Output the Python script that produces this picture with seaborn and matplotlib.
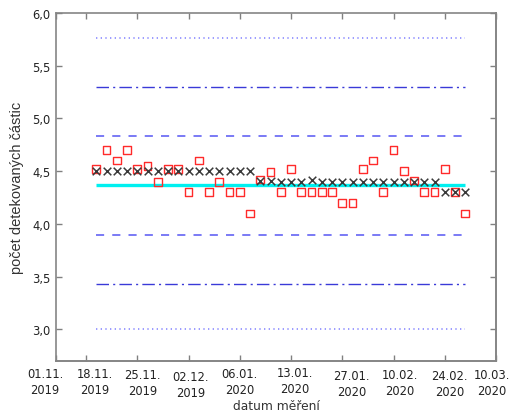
import numpy as np
import pandas as pd
import matplotlib
matplotlib.use("Agg")
import matplotlib.pyplot as plt
import matplotlib.transforms as mtransforms
import seaborn as sns

# --- data ---------------------------------------------------------------
measurement_index = list(range(1, 38))
cross_values = [4.5, 4.5, 4.5, 4.5, 4.5, 4.5, 4.5, 4.5, 4.5, 4.5,
                4.5, 4.5, 4.5, 4.5, 4.5, 4.5, 4.41, 4.41, 4.4, 4.4,
                4.4, 4.42, 4.4, 4.4, 4.4, 4.4, 4.4, 4.4, 4.4, 4.4,
                4.4, 4.4, 4.4, 4.4, 4.3, 4.3, 4.3]
square_values = [4.52, 4.7, 4.6, 4.7, 4.52, 4.55, 4.4, 4.52, 4.52, 4.3,
                 4.6, 4.3, 4.4, 4.3, 4.3, 4.1, 4.42, 4.49, 4.3, 4.52,
                 4.3, 4.3, 4.3, 4.3, 4.2, 4.2, 4.52, 4.6, 4.3, 4.7,
                 4.5, 4.41, 4.3, 4.3, 4.52, 4.3, 4.1]
mean_level = 4.365
limit_levels_dashed = [4.835, 3.893]
limit_levels_dashdot = [5.295, 3.43]
limit_levels_dotted = [5.763, 3.0]

tick_positions = [-2.93, 0, 5, 10, 15, 20, 25, 30, 35, 40]
tick_labels = ["01.11.\n2019", "18.11.\n2019", "25.11.\n2019", "02.12.\n2019",
               "06.01.\n2020", "13.01.\n2020", "27.01.\n2020", "10.02.\n2020",
               "24.02.\n2020", "10.03.\n2020"]
# small horizontal / vertical nudges of the labels (pixels), as in the original
label_dx = [-11, 9, 5, 2, 0, 4, 9, 6, 5, -4]
label_dy = [0, 0, -1, -3, 0, 1, -2, -1, -2, -1]
y_ticks = [3.0, 3.5, 4.0, 4.5, 5.0, 5.5, 6.0]
y_tick_labels = ["3,0", "3,5", "4,0", "4,5", "5,0", "5,5", "6,0"]

df = pd.DataFrame({"x": measurement_index, "cross": cross_values,
                   "square": square_values})

# --- figure ---------------------------------------------------------------
sns.set_style("white")
plt.rcParams["font.family"] = ["DejaVu Sans"]

fig = plt.figure(figsize=(5.11, 4.14), dpi=100)
ax = fig.add_axes([56 / 511, 1 - 362 / 414, 440 / 511, 348 / 414])

xmin, xmax = df["x"].min(), df["x"].max()

# horizontal limit lines
for lv in limit_levels_dotted:
    ax.hlines(lv, xmin, xmax, colors="#8a8aff", linewidth=1.2,
              linestyles=(0, (0.8, 2.0)), zorder=1)
for lv in limit_levels_dashdot:
    ax.hlines(lv, xmin, xmax, colors="#3a3ad8", linewidth=1.0,
              linestyles=(0, (9, 3, 1.5, 3)), zorder=1)
for lv in limit_levels_dashed:
    ax.hlines(lv, xmin, xmax, colors="#6f6ff5", linewidth=1.3,
              linestyles=(0, (4.5, 4.5)), zorder=1)
ax.hlines(mean_level, xmin, xmax, colors="#00f0f0", linewidth=2.4, zorder=2)

sns.scatterplot(data=df, x="x", y="square", marker="s", s=30,
                facecolor="none", edgecolor="#ff2a2a", linewidth=1.0,
                ax=ax, zorder=3)
sns.scatterplot(data=df, x="x", y="cross", marker="x", s=30,
                color="#3a3a3a", linewidth=1.1, ax=ax, zorder=4)

ax.set_xlim(-2.93, 40)
ax.set_ylim(2.7, 6.0)
ax.set_xticks(tick_positions)
ax.set_xticklabels(tick_labels, fontsize=8.3, color="#222222", linespacing=1.35)
ax.set_yticks(y_ticks)
ax.set_yticklabels(y_tick_labels, fontsize=8.3, color="#222222")
ax.tick_params(direction="in", length=4, width=1.0, color="#808080",
               top=True, right=True, bottom=True, left=True, pad=4)

for lab, dx, dy in zip(ax.get_xticklabels(), label_dx, label_dy):
    lab.set_transform(lab.get_transform() +
                      mtransforms.ScaledTranslation(dx / 100, dy / 100,
                                                    fig.dpi_scale_trans))

for side, sp in ax.spines.items():
    sp.set_visible(True)
    sp.set_color("#858585")
    sp.set_linewidth(1.4 if side in ("right", "bottom") else 1.2)

ax.set_xlabel("datum měření", fontsize=8.8, color="#333333", labelpad=0)
ax.set_ylabel("počet detekovaných částic", fontsize=10.5, color="#333333",
              labelpad=6, family=["Liberation Sans", "DejaVu Sans"])

fig.savefig("out.png", dpi=100)
